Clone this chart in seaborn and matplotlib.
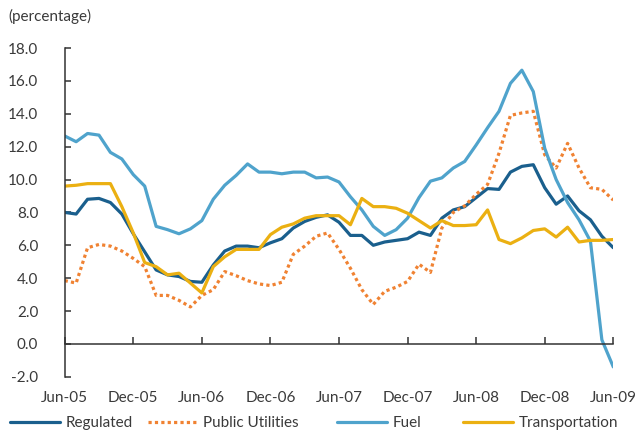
import numpy as np
import pandas as pd
import matplotlib
matplotlib.use('Agg')
import matplotlib.pyplot as plt
import seaborn as sns

# ---- data (monthly, Jun-05 .. Jun-09) ----
months = pd.date_range('2005-06-01', '2009-06-01', freq='MS').strftime('%b-%y').tolist()
tick_labels = ['Jun-05', 'Dec-05', 'Jun-06', 'Dec-06', 'Jun-07', 'Dec-07', 'Jun-08', 'Dec-08', 'Jun-09']
y_ticks = [-2, 0, 2, 4, 6, 8, 10, 12, 14, 16, 18]

regulated = [8.0, 7.9, 8.8, 8.85, 8.6, 7.9, 6.7, 5.6, 4.5, 4.2,
             4.1, 3.8, 3.75, 4.8, 5.65, 5.95, 5.95, 5.85, 6.15, 6.4,
             7.05, 7.45, 7.7, 7.85, 7.4, 6.6, 6.6, 6.0, 6.2, 6.3,
             6.4, 6.8, 6.6, 7.65, 8.15, 8.35, 8.9, 9.45, 9.4, 10.45,
             10.8, 10.9, 9.5, 8.5, 9.0, 8.1, 7.55, 6.55, 5.85]
public_utilities = [3.85, 3.7, 5.85, 6.05, 5.95, 5.65, 5.2, 4.7, 2.95, 2.95,
                    2.65, 2.25, 2.95, 3.3, 4.4, 4.15, 3.85, 3.65, 3.55, 3.75,
                    5.45, 5.95, 6.55, 6.75, 5.75, 4.6, 3.3, 2.4, 3.2, 3.45,
                    3.8, 4.85, 4.35, 7.05, 8.0, 8.4, 9.1, 9.7, 11.6, 13.9,
                    14.05, 14.15, 11.5, 10.7, 12.2, 10.7, 9.5, 9.4, 8.75]
fuel = [12.65, 12.3, 12.8, 12.7, 11.65, 11.25, 10.3, 9.6, 7.15, 6.95,
        6.7, 7.0, 7.5, 8.8, 9.65, 10.25, 10.95, 10.45, 10.45, 10.35,
        10.45, 10.45, 10.1, 10.15, 9.85, 8.95, 8.15, 7.15, 6.6, 6.95,
        7.65, 8.9, 9.9, 10.1, 10.7, 11.1, 12.1, 13.15, 14.15, 15.85,
        16.65, 15.35, 11.9, 10.0, 8.6, 7.55, 6.25, 0.25, -1.4]
transportation = [9.6, 9.65, 9.75, 9.75, 9.75, 8.35, 6.75, 4.95, 4.7, 4.2,
                  4.3, 3.7, 3.1, 4.7, 5.3, 5.75, 5.75, 5.75, 6.65, 7.1,
                  7.3, 7.65, 7.8, 7.8, 7.8, 7.25, 8.85, 8.35, 8.35, 8.25,
                  7.95, 7.5, 7.05, 7.5, 7.2, 7.2, 7.25, 8.15, 6.35, 6.1,
                  6.45, 6.9, 7.0, 6.5, 7.1, 6.2, 6.3, 6.3, 6.35]

series_names = ['Regulated', 'Public Utilities', 'Fuel', 'Transportation']
series_values = [regulated, public_utilities, fuel, transportation]

# ---- style ----
sns.set_style('ticks')
plt.rcParams['font.family'] = ['Lato', 'DejaVu Sans']
TXT = '#3a3a3a'
plt.rcParams['text.color'] = TXT
colors = ['#1a5f8d', '#f08232', '#4fa3cc', '#ebb012']
styles = ['-', (0, (1, 1)), '-', '-']
LW = 2.3

W, H = 635, 437
fig = plt.figure(figsize=(W / 100, H / 100), dpi=100)
left, right, top, bottom = 64.7, 613.3, 48.0, 376.8
ax = fig.add_axes([left / W, 1 - bottom / H, (right - left) / W, (bottom - top) / H])

idx = np.arange(len(months))
lines = []
for name, vals, c, ls in zip(series_names, series_values, colors, styles):
    df = pd.DataFrame({'m': idx, 'v': vals})
    sns.lineplot(data=df, x='m', y='v', ax=ax, color=c, linestyle=ls, linewidth=LW,
                 legend=False)
    ln = ax.get_lines()[-1]
    ln.set_label(name)
    lines.append(ln)

ax.set_xlim(0, len(months) - 1)
ax.set_ylim(-2, 18)
ax.set_xlabel('')
ax.set_ylabel('')

ax.set_yticks(y_ticks)
ax.set_yticklabels([f'{v:.1f}' for v in y_ticks])
ax.set_xticks(idx[::6])
ax.set_xticklabels(tick_labels)

for s in ['top', 'right']:
    ax.spines[s].set_visible(False)
ax.spines['bottom'].set_position(('data', 0))
for s in ['left', 'bottom']:
    ax.spines[s].set_color('#333333')
    ax.spines[s].set_linewidth(1.1)

ax.tick_params(axis='y', direction='in', length=4, width=1.1, color='#333333',
               pad=19, labelsize=11, labelcolor=TXT)
ax.tick_params(axis='x', direction='in', length=5, width=1.1, color='#333333',
               pad=34, labelsize=11, labelcolor=TXT)

fig.text(8 / W, 1 - 16 / H, '(percentage)', fontsize=11, color=TXT, va='center', ha='left')

# legend entries placed individually along the bottom
leg_x = [10, 148, 337, 463]
for ln, x in zip(lines, leg_x):
    leg = fig.legend(handles=[ln], loc='center left', bbox_to_anchor=(x / W, 1 - 423 / H),
                     frameon=False, fontsize=11, handlelength=3.27, handletextpad=0.35,
                     borderpad=0, borderaxespad=0)
    for t in leg.get_texts():
        t.set_color(TXT)

fig.savefig('out.png', dpi=100)
